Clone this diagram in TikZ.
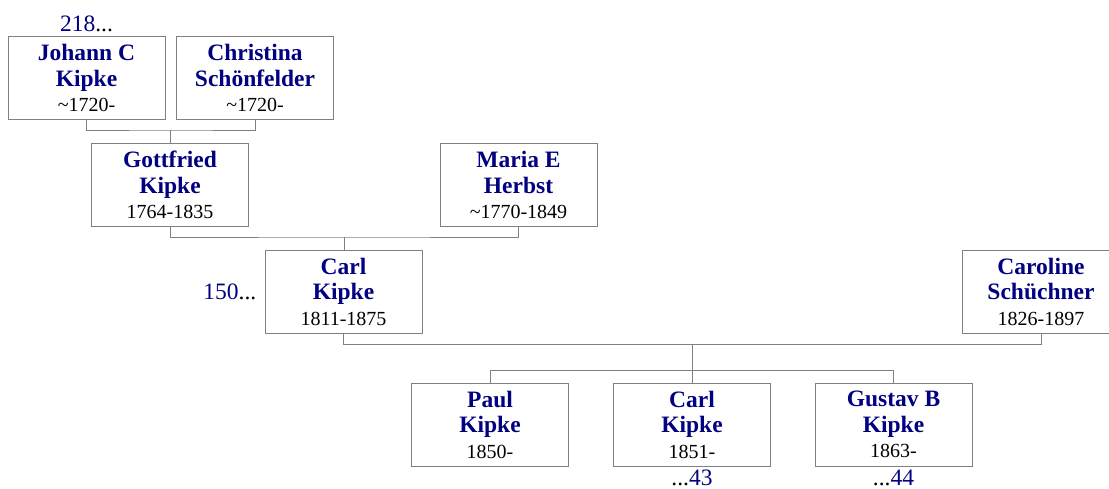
\documentclass[tikz,border=0pt]{standalone}
\usepackage{fontspec}
\setmainfont{Liberation Serif}
\usetikzlibrary{positioning, calc}

\definecolor{navy}{RGB}{0,0,128}
\definecolor{linegray}{RGB}{128,128,128}

\newcommand{\nm}[1]{{\bfseries\color{navy}#1}}
\newcommand{\yr}[1]{{\fontsize{20}{24}\selectfont #1}}

\begin{document}
\begin{tikzpicture}[
    x=1pt, y=1pt,
    person/.style={
        rectangle,
        draw=linegray,
        line width=1pt,
        minimum width=157pt,
        minimum height=83pt,
        align=center,
        inner sep=0pt,
        font=\fontsize{23.5}{25.5}\selectfont
    },
    link/.style={
        draw=linegray,
        line width=1pt
    },
    ref/.style={
        inner sep=0pt,
        font=\fontsize{23.5}{26}\selectfont
    }
]
    \useasboundingbox (0,0) rectangle (1109,-488);

    % -- Grandparents --
    \node[person] (johann) at (86.5,-78) {\nm{Johann C}\\\nm{Kipke}\\\yr{\textasciitilde1720-}};
    \node[person] (christina) at (255,-78) {\nm{Christina}\\\nm{Schönfelder}\\\yr{\textasciitilde1720-}};
    \node[ref, above=4pt of johann] (up1) {\textcolor{navy}{218}...};

    % -- Parents --
    \node[person] (gottfried) at (170,-185) {\nm{Gottfried}\\\nm{Kipke}\\\yr{1764-1835}};
    \node[person] (maria) at (518.5,-185) {\nm{Maria E}\\\nm{Herbst}\\\yr{\textasciitilde1770-1849}};

    % -- Couple --
    \node[person] (carl) at (343.5,-291.5) {\nm{Carl}\\\nm{Kipke}\\\yr{1811-1875}};
    \node[person] (caroline) at (1041,-291.5) {\nm{Caroline}\\\nm{Schüchner}\\\yr{1826-1897}};
    \node[ref, left=8pt of carl] (up2) {\textcolor{navy}{150}...};

    % -- Children --
    \node[person] (paul) at (490,-424.5) {\nm{Paul}\\\nm{Kipke}\\\yr{1850-}};
    \node[person] (carlj) at (692,-424.5) {\nm{Carl}\\\nm{Kipke}\\\yr{1851-}};
    \node[person] (gustav) at (893.5,-424.5) {\nm{Gustav B}\\\nm{Kipke}\\\yr{1863-}};
    \node[ref, below=3pt of carlj] (down1) {...\textcolor{navy}{43}};
    \node[ref, below=3pt of gustav] (down2) {...\textcolor{navy}{44}};

    % Links between generations
    \coordinate (m1) at ($(johann.south)!0.5!(christina.south)+(0,-10)$);
    \draw[link] (johann.south) |- (m1) -| (christina.south);
    \draw[link] (m1) -- (m1 |- gottfried.north);

    \coordinate (m2) at ($(gottfried.south)!0.5!(maria.south)+(0,-10)$);
    \draw[link] (gottfried.south) |- (m2) -| (maria.south);
    \draw[link] (m2) -- (m2 |- carl.north);

    \coordinate (m3) at ($(carl.south)!0.5!(caroline.south)+(0,-11)$);
    \draw[link] (carl.south) |- (m3) -| (caroline.south);
    \draw[link] (m3) -- (m3 |- carlj.north);
    \draw[link] (paul.north) -- ++(0,12) -| (gustav.north);

\end{tikzpicture}
\end{document}
